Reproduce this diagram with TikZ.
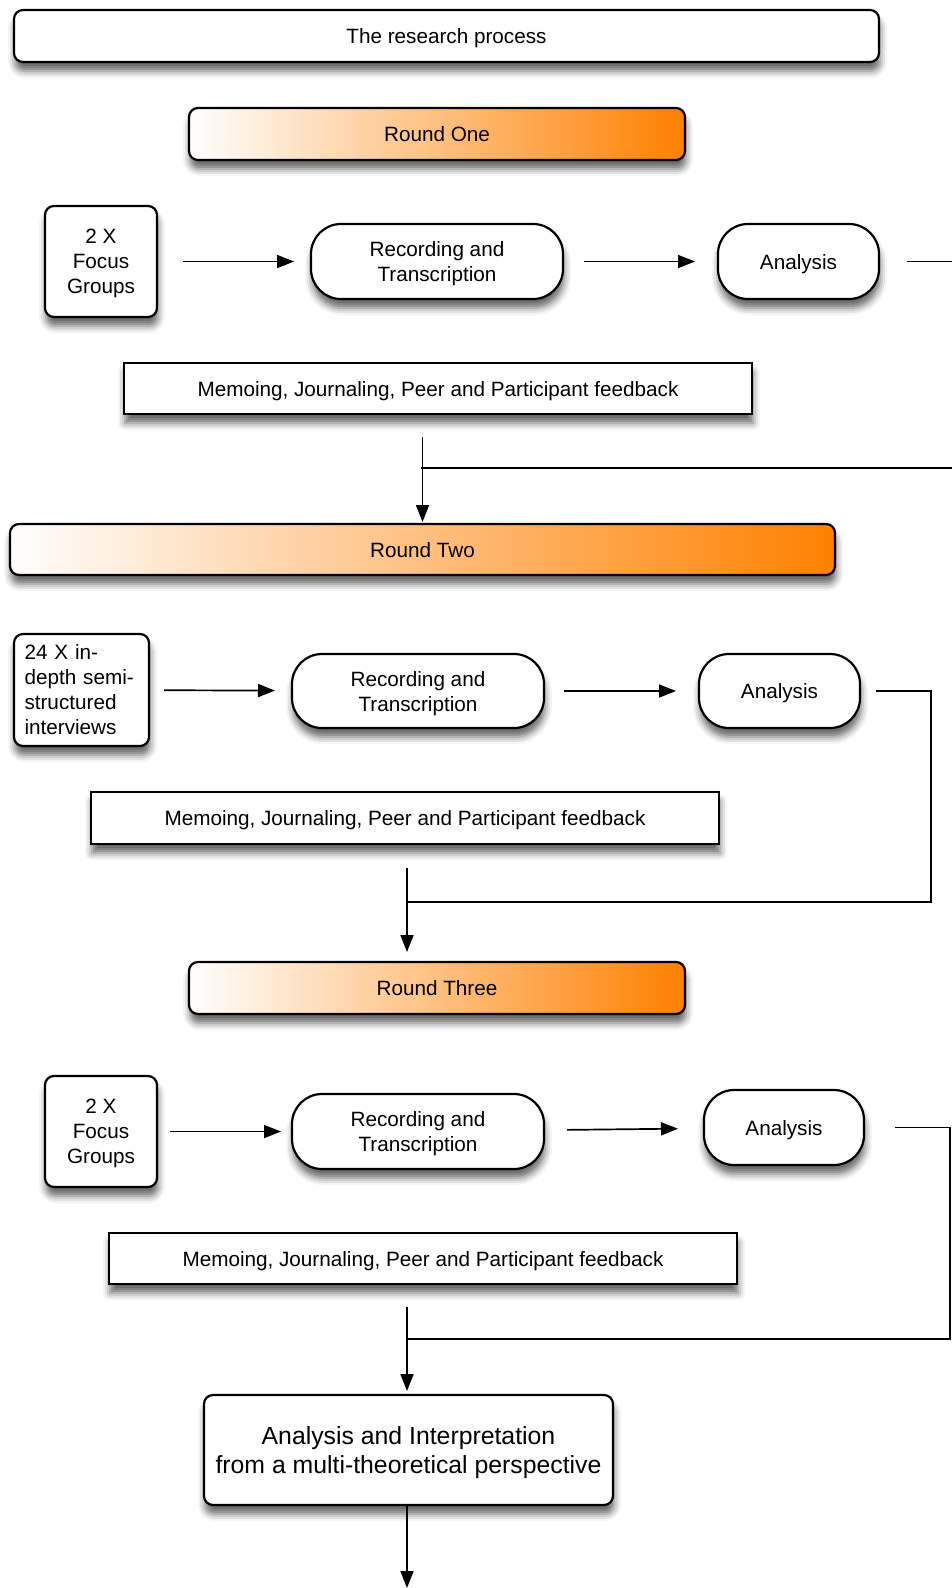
\documentclass[tikz,border=0pt]{standalone}
\usepackage{fontspec}
\setmainfont{Liberation Sans}
\usetikzlibrary{arrows.meta,shadows.blur,calc}
\definecolor{roundorange}{RGB}{255,128,0}

\begin{document}
\begin{tikzpicture}[x=1pt,y=-1pt,>={Triangle[length=17pt,width=13pt]},line width=1.7pt,
  box/.style={draw=black,line width=2.2pt,fill=white,inner sep=0pt,outer sep=0pt,align=center,
    text depth=0pt,font=\fontsize{20.7}{25}\selectfont,
    blur shadow={shadow xshift=1pt,shadow yshift=-9pt,shadow blur radius=7pt,shadow opacity=60}},
  rbox/.style={box,rounded corners=9pt},
  pill/.style={box,rounded corners=30pt},
  roundbar/.style={rbox,left color=white,right color=roundorange},
  memo/.style={box}]

  \useasboundingbox (0,0) rectangle (952,1588);

  % heading and round one
  \node[rbox,minimum width=865pt,minimum height=52pt] (title) at (446.5,36) {The research process};
  \node[roundbar,minimum width=496pt,minimum height=52pt] (r1) at (437,134) {Round One};

  \node[rbox,minimum width=112pt,minimum height=111pt] (g1) at (101,261.5) {2 X\\Focus\\Groups};
  \node[pill,minimum width=252pt,minimum height=75pt] (t1) at (437,261.5) {Recording and\\Transcription};
  \node[pill,minimum width=161pt,minimum height=75pt] (a1) at (798.5,261.5) {Analysis};
  \node[memo,minimum width=628pt,minimum height=51pt] (m1) at (438,388.5) {Memoing, Journaling, Peer and Participant feedback};

  % round two
  \node[roundbar,minimum width=825pt,minimum height=51pt] (r2) at (422.5,549.5) {Round Two};

  \node[rbox,minimum width=135pt,minimum height=112pt,text width=114pt,align=left,text depth=] (g2) at (81.5,690) {24 X in-\\depth semi-\\structured\\interviews};
  \node[pill,minimum width=252pt,minimum height=74pt] (t2) at (418,691) {Recording and\\Transcription};
  \node[pill,minimum width=161pt,minimum height=74pt] (a2) at (779.5,691) {Analysis};
  \node[memo,minimum width=628pt,minimum height=52pt] (m2) at (405,818) {Memoing, Journaling, Peer and Participant feedback};

  % round three
  \node[roundbar,minimum width=496pt,minimum height=52pt] (r3) at (437,988) {Round Three};

  \node[rbox,minimum width=112pt,minimum height=111pt] (g3) at (101,1131.5) {2 X\\Focus\\Groups};
  \node[pill,minimum width=252pt,minimum height=75pt] (t3) at (418,1131.5) {Recording and\\Transcription};
  \node[pill,minimum width=160pt,minimum height=75pt] (a3) at (784,1127.5) {Analysis};
  \node[memo,minimum width=628pt,minimum height=51pt] (m3) at (423,1258.5) {Memoing, Journaling, Peer and Participant feedback};

  \node[rbox,minimum width=409pt,minimum height=110pt,font=\fontsize{24.8}{29.5}\selectfont] (fin) at (408.5,1450) {Analysis and Interpretation\\from a multi-theoretical perspective};

  \coordinate (e0) at (952,261.5);
  \coordinate (j1) at (421,468);
  \coordinate (e1) at (952,468);
  \coordinate (c2) at (931,902);
  \coordinate (j2) at (407,902);
  \coordinate (c3) at (950,1339);
  \coordinate (j3) at (407,1339);
  \coordinate (out) at (407,1588);

  \path[->]
    (g1) edge[shorten <=26pt,shorten >=17pt] (t1)
    (t1) edge[shorten <=21pt,shorten >=23pt] (a1)
    (g2) edge[shorten <=15pt,shorten >=17pt] (t2)
    (t2) edge[shorten <=20pt,shorten >=23pt] (a2)
    (g3) edge[shorten <=13pt,shorten >=11pt] (t3)
    (t3) edge[shorten <=23pt,shorten >=26pt] (a3);

  \draw ([xshift=28pt]a1.east) -- (e0);
  \draw[->,shorten >=2pt] (m1.south -| r2.north) ++(0,23) -- (r2.north);
  \draw (j1) -- (e1);

  \draw ([xshift=16pt]a2.east) -| (c2) -- (j2);
  \draw[->,shorten >=10pt] (m2.south -| j2) ++(0,24) -- (r3.north -| j2);

  \draw ([xshift=31pt]a3.east) -| (c3) -- (j3);
  \draw[->,shorten >=4pt] (m3.south -| j3) ++(0,23) -- (fin.north -| j3);
  \draw[->] (fin.south -| out) -- (out);

\end{tikzpicture}
\end{document}
